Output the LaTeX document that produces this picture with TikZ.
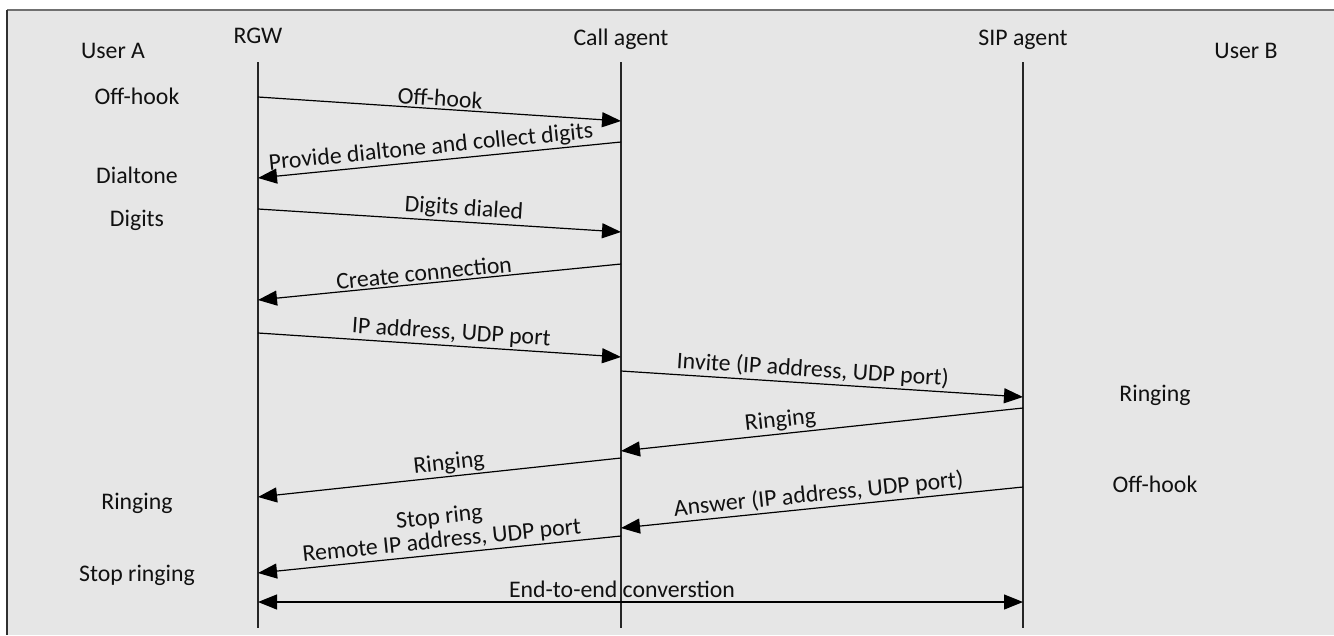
\documentclass[tikz,border=0pt]{standalone}
\usepackage{fontspec}
\setmainfont{Carlito}
\usetikzlibrary{arrows.meta}
\definecolor{panel}{HTML}{E6E6E6}
\definecolor{rimtop}{HTML}{707070}
\definecolor{rimleft}{HTML}{303030}
\definecolor{ink}{HTML}{111111}
\begin{document}
\begin{tikzpicture}[x=1pt,y=-1pt,
  font=\fontsize{23.8}{27}\selectfont, text=ink,
  lifeline/.style={line width=1.4pt, draw=black!85},
  msg/.style={line width=1.2pt, draw=black, -{Triangle[length=19pt,width=15pt]}},
  duplex/.style={line width=1.2pt, draw=black, {Triangle[length=19pt,width=15pt]}-{Triangle[length=19pt,width=15pt]}},
  lbl/.style={sloped, above, inner sep=2pt},
  party/.style={anchor=base, inner sep=0pt},
  event/.style={anchor=base, inner sep=0pt}]

\useasboundingbox (0,0) rectangle (1334,635);

% panel with its rim on top and on the left
\fill[panel] (7,10) rectangle (1334,635);
\draw[rimtop, line width=2pt] (7,10) -- (1334,10);
\draw[rimleft, line width=1.2pt] (7,10) -- (7,635);

% parties
\node[party] (ua)  at (113,58) {User A};
\node[party] (rgw) at (258,43) {RGW};
\node[party] (ca)  at (621,45) {Call agent};
\node[party] (sip) at (1023,45) {SIP agent};
\node[party] (ub)  at (1246,58) {User B};

% lifelines
\coordinate (rgwT) at (258,62);  \coordinate (rgwB) at (258,628);
\coordinate (caT)  at (621,62);  \coordinate (caB)  at (621,628);
\coordinate (sipT) at (1023,62); \coordinate (sipB) at (1023,628);
\draw[lifeline] (rgwT) -- (rgwB);
\draw[lifeline] (caT) -- (caB);
\draw[lifeline] (sipT) -- (sipB);

% events at user A
\node[event] (a1) at (137,104) {Off-hook};
\node[event] (a2) at (137,183) {Dialtone};
\node[event] (a3) at (137,226) {Digits};
\node[event] (a4) at (137,509) {Ringing};
\node[event] (a5) at (137,581) {Stop ringing};

% events at user B
\node[event] (b1) at (1155,401) {Ringing};
\node[event] (b2) at (1155,492) {Off-hook};

% message end points
\coordinate (m1s)  at (258,97);   \coordinate (m1e)  at (621,121);
\coordinate (m2s)  at (621,142);  \coordinate (m2e)  at (258,178);
\coordinate (m3s)  at (258,209);  \coordinate (m3e)  at (621,232);
\coordinate (m4s)  at (621,264);  \coordinate (m4e)  at (258,300);
\coordinate (m5s)  at (258,333);  \coordinate (m5e)  at (621,357);
\coordinate (m6s)  at (621,371);  \coordinate (m6e)  at (1023,397);
\coordinate (m7s)  at (1023,408); \coordinate (m7e)  at (621,451);
\coordinate (m8s)  at (621,458);  \coordinate (m8e)  at (258,497);
\coordinate (m9s)  at (1023,487); \coordinate (m9e)  at (621,528);
\coordinate (m10s) at (621,536);  \coordinate (m10e) at (258,573);
\coordinate (m11s) at (258,602);  \coordinate (m11e) at (1023,602);

% messages
\draw[msg] (m1s) -- node[lbl, pos=0.50] {Off-hook} (m1e);
\draw[msg] (m2s) -- node[lbl, pos=0.52] {Provide dialtone and collect digits} (m2e);
\draw[msg] (m3s) -- node[lbl, pos=0.565] {Digits dialed} (m3e);
\draw[msg] (m4s) -- node[lbl, pos=0.54] {Create connection} (m4e);
\draw[msg] (m5s) -- node[lbl, pos=0.53] {IP address, UDP port} (m5e);
\draw[msg] (m6s) -- node[lbl, pos=0.475] {Invite (IP address, UDP port)} (m6e);
\draw[msg] (m7s) -- node[lbl, pos=0.60] {Ringing} (m7e);
\draw[msg] (m8s) -- node[lbl, pos=0.47] {Ringing} (m8e);
\draw[msg] (m9s) -- node[lbl, pos=0.505] {Answer (IP address, UDP port)} (m9e);
\draw[msg] (m10s) -- node[lbl, pos=0.49, align=center, font=\fontsize{23.8}{24}\selectfont] {Stop ring\\Remote IP address, UDP port} (m10e);
\draw[duplex] (m11s) -- (m11e);
\node[event] (e2e) at (622,597) {End-to-end converstion};

\end{tikzpicture}
\end{document}
